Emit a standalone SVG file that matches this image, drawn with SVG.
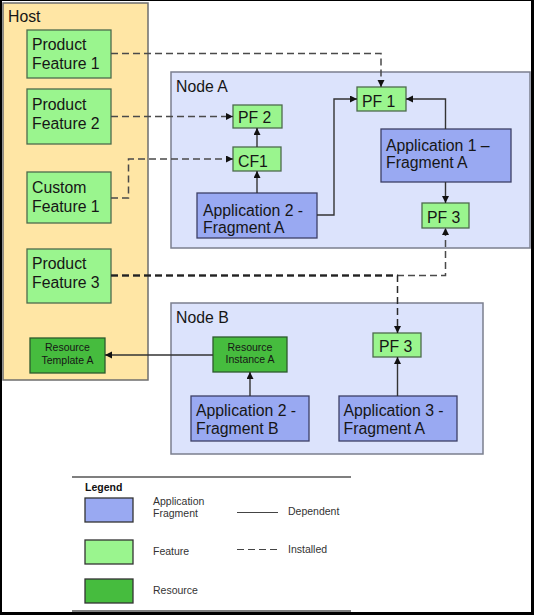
<svg xmlns="http://www.w3.org/2000/svg" width="534" height="615" viewBox="0 0 534 615">
<style>
text{font-family:"Liberation Sans",Arial,sans-serif;fill:#161616}
.big{font-size:15.8px}
.small{font-size:10.5px}
.center{text-anchor:middle}
.leg{font-size:10.5px;fill:#333}
.host{fill:#FFE6A5;stroke:#6e6e6e;stroke-width:1.5}
.node{fill:#DCE3FC;stroke:#7b7f8e;stroke-width:1.5}
.feat{fill:#9AF58E;stroke:#4d6b4d;stroke-width:1.3}
.app{fill:#99A9F2;stroke:#3d4066;stroke-width:1.3}
.res{fill:#46BC3E;stroke:#2d5a2d;stroke-width:1.3}
.sw{stroke:#333;stroke-width:1.3}
.dep{fill:none;stroke:#333;stroke-width:1.4}
.ins{fill:none;stroke:#4a4a4a;stroke-width:1.5;stroke-dasharray:7,4}
</style>
<defs>
<marker id="ah" markerUnits="userSpaceOnUse" markerWidth="8" markerHeight="8" refX="7" refY="3.5" orient="auto">
<path d="M0,0 L7,3.5 L0,7 z" fill="#111"/>
</marker>
</defs>
<rect x="0" y="0" width="534" height="615" fill="#000"/>
<rect x="2" y="1" width="529" height="611" fill="#fff"/>

<g id="host">
<rect class="host" x="3" y="3" width="145" height="377"/>
<text class="big" x="8" y="22">Host</text>
</g>
<g id="nodeA">
<rect class="node" x="171" y="72" width="359" height="176"/>
<text class="big" x="176" y="91.5">Node A</text>
</g>
<g id="nodeB">
<rect class="node" x="171" y="303" width="312" height="151"/>
<text class="big" x="176" y="322.5">Node B</text>
</g>

<g id="productFeature1">
<rect class="feat" x="27" y="30" width="84" height="48"/>
<text class="big" x="32" y="50">Product</text>
<text class="big" x="32" y="68.5">Feature 1</text>
</g>
<g id="productFeature2">
<rect class="feat" x="27" y="89" width="84" height="55"/>
<text class="big" x="32" y="110">Product</text>
<text class="big" x="32" y="128.5">Feature 2</text>
</g>
<g id="customFeature1">
<rect class="feat" x="27" y="172" width="84" height="51"/>
<text class="big" x="32" y="193">Custom</text>
<text class="big" x="32" y="211.5">Feature 1</text>
</g>
<g id="productFeature3">
<rect class="feat" x="27" y="249" width="84" height="54"/>
<text class="big" x="32" y="269">Product</text>
<text class="big" x="32" y="287.5">Feature 3</text>
</g>
<g id="resourceTemplateA">
<rect class="res" x="30" y="338" width="75" height="35"/>
<text class="small center" x="67.5" y="351">Resource</text>
<text class="small center" x="67.5" y="363.5">Template A</text>
</g>

<g id="pf2A">
<rect class="feat" x="233" y="105" width="49" height="23"/>
<text class="big" x="238" y="123">PF 2</text>
</g>
<g id="cf1A">
<rect class="feat" x="233" y="147" width="48" height="24"/>
<text class="big" x="238" y="166.5">CF1</text>
</g>
<g id="app2FragA">
<rect class="app" x="197" y="193" width="120" height="45"/>
<text class="big" x="203" y="215.5">Application 2 -</text>
<text class="big" x="203" y="233">Fragment A</text>
</g>
<g id="pf1A">
<rect class="feat" x="357" y="87" width="49" height="24"/>
<text class="big" x="362" y="106.5">PF 1</text>
</g>
<g id="app1FragA">
<rect class="app" x="381" y="129" width="130" height="53"/>
<text class="big" x="386" y="150.5">Application 1 –</text>
<text class="big" x="386" y="168">Fragment A</text>
</g>
<g id="pf3A">
<rect class="feat" x="422" y="203" width="47" height="25"/>
<text class="big" x="427" y="223">PF 3</text>
</g>

<g id="resourceInstanceA">
<rect class="res" x="213" y="337" width="74" height="35"/>
<text class="small center" x="250" y="350.7">Resource</text>
<text class="small center" x="250" y="363.3">Instance A</text>
</g>
<g id="pf3B">
<rect class="feat" x="373" y="333" width="48" height="24"/>
<text class="big" x="379" y="351.5">PF 3</text>
</g>
<g id="app2FragB">
<rect class="app" x="191" y="396" width="118" height="45"/>
<text class="big" x="196" y="416">Application 2 -</text>
<text class="big" x="196" y="434">Fragment B</text>
</g>
<g id="app3FragA">
<rect class="app" x="339" y="396" width="118" height="45"/>
<text class="big" x="343.5" y="416">Application 3 -</text>
<text class="big" x="343.5" y="434">Fragment A</text>
</g>

<g id="connectors">
<path class="ins" d="M111,53.5 H381 V87" marker-end="url(#ah)"/>
<path class="ins" d="M111,116.5 H233" marker-end="url(#ah)"/>
<path class="ins" d="M111,198 H128.5 V159 H233" marker-end="url(#ah)"/>
<path class="ins" d="M111,275.5 H445.5 V228" marker-end="url(#ah)"/>
<path class="ins" d="M111,275.5 H397.5 V333" marker-end="url(#ah)" style="stroke:#2a2a2a"/>
<path class="ins" d="M111,275.5 H397.5" style="stroke:#222;stroke-width:2"/>
<path class="dep" d="M257,147 V128" marker-end="url(#ah)"/>
<path class="dep" d="M257,193 V171" marker-end="url(#ah)"/>
<path class="dep" d="M317,215 H334 V99 H357" marker-end="url(#ah)"/>
<path class="dep" d="M445.5,129 V99 H406" marker-end="url(#ah)"/>
<path class="dep" d="M445.5,182 V203" marker-end="url(#ah)"/>
<path class="dep" d="M213,355 H105" marker-end="url(#ah)"/>
<path class="dep" d="M250,396 V372" marker-end="url(#ah)"/>
<path class="dep" d="M397.5,396 V357" marker-end="url(#ah)"/>
</g>

<g id="legend">
<line x1="72" y1="477" x2="351" y2="477" stroke="#555" stroke-width="1.5"/>
<line x1="72" y1="611" x2="351" y2="611" stroke="#555" stroke-width="1.5"/>
<text x="85" y="491" style="font-size:10.5px;font-weight:bold;fill:#111">Legend</text>
<rect class="sw" x="85" y="498" width="48" height="24" fill="#99A9F2"/>
<rect class="sw" x="85" y="540" width="48" height="24" fill="#9AF58E"/>
<rect class="sw" x="85" y="579" width="48" height="24" fill="#46BC3E"/>
<text class="leg" x="153" y="504.5">Application</text>
<text class="leg" x="153" y="517">Fragment</text>
<text class="leg" x="153" y="555">Feature</text>
<text class="leg" x="153" y="593.5">Resource</text>
<line x1="237" y1="512.5" x2="278" y2="512.5" stroke="#444" stroke-width="1.2"/>
<line x1="237" y1="549.5" x2="278" y2="549.5" stroke="#444" stroke-width="1.2" stroke-dasharray="7,4"/>
<text class="leg" x="288" y="514.5">Dependent</text>
<text class="leg" x="288" y="552.5">Installed</text>
</g>
</svg>
